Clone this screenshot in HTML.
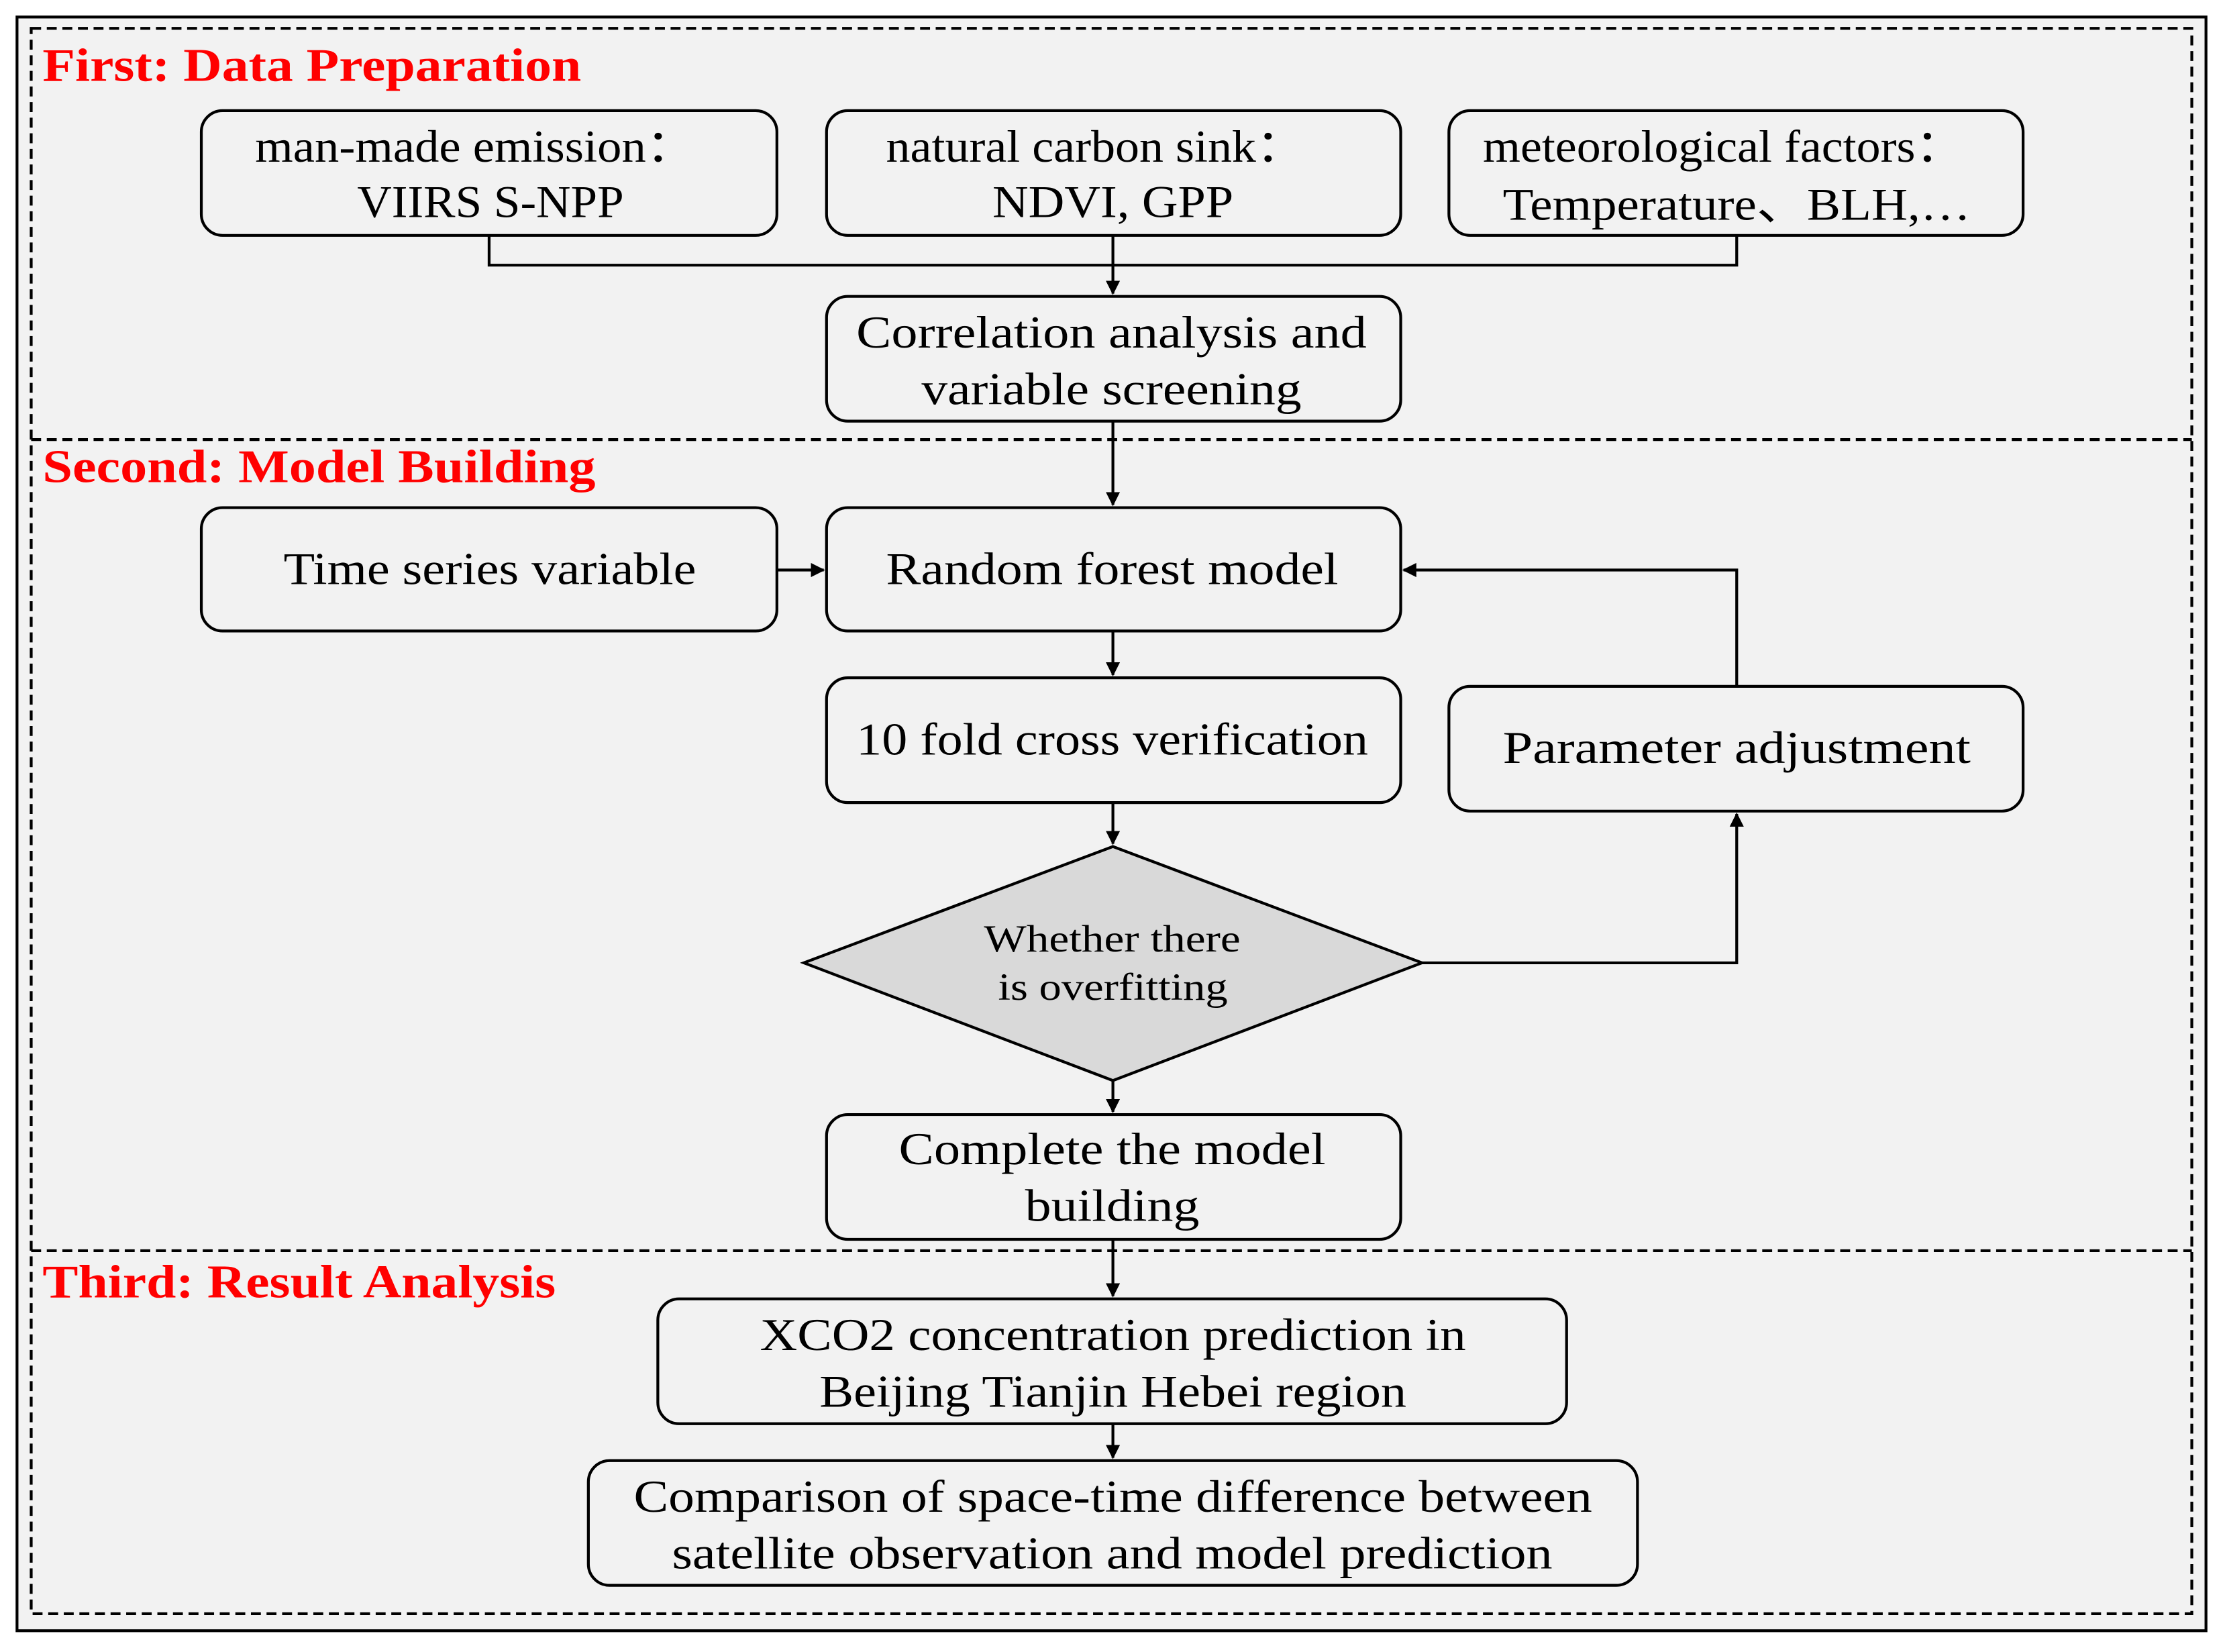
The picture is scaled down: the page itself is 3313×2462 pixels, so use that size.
<!DOCTYPE html>
<html><head><meta charset="utf-8"><style>
html,body{margin:0;padding:0;background:#fff}
svg{display:block}
text{font-family:"Liberation Serif","DejaVu Serif",serif}
</style></head><body>
<svg width="3313" height="2462" viewBox="0 0 1568 1165" preserveAspectRatio="none" xmlns="http://www.w3.org/2000/svg">
<defs><marker id="a" markerWidth="10" markerHeight="10" refX="9" refY="5" orient="auto" markerUnits="userSpaceOnUse"><path d="M0,0 L10,5 L0,10 z" fill="#000"/></marker></defs>
<rect x="0" y="0" width="1568" height="1165" fill="#fff"/>
<rect x="12" y="12" width="1544" height="1138" fill="#f2f2f2" stroke="#000" stroke-width="2"/>
<rect x="22" y="20" width="1524" height="1118" fill="none" stroke="#000" stroke-width="2" stroke-dasharray="7,4"/>
<line x1="22" y1="310" x2="1546" y2="310" stroke="#000" stroke-width="2" stroke-dasharray="7,4"/>
<line x1="22" y1="882" x2="1546" y2="882" stroke="#000" stroke-width="2" stroke-dasharray="7,4"/>
<g fill="#ff0000" font-weight="bold" font-size="33" lengthAdjust="spacingAndGlyphs">
<text x="30" y="57" textLength="380" lengthAdjust="spacingAndGlyphs">First: Data Preparation</text>
<text x="30" y="340" textLength="390" lengthAdjust="spacingAndGlyphs">Second: Model Building</text>
<text x="30" y="915" textLength="362" lengthAdjust="spacingAndGlyphs">Third: Result Analysis</text>
</g>
<g fill="#f2f2f2" stroke="#000" stroke-width="2">
<rect x="142" y="78" width="406" height="88" rx="15"/>
<rect x="583" y="78" width="405" height="88" rx="15"/>
<rect x="1022" y="78" width="405" height="88" rx="15"/>
<rect x="583" y="209" width="405" height="88" rx="15"/>
<rect x="142" y="358" width="406" height="87" rx="15"/>
<rect x="583" y="358" width="405" height="87" rx="15"/>
<rect x="583" y="478" width="405" height="88" rx="15"/>
<rect x="1022" y="484" width="405" height="88" rx="15"/>
<rect x="583" y="786" width="405" height="88" rx="15"/>
<rect x="464" y="916" width="641" height="88" rx="15"/>
<rect x="415" y="1030" width="740" height="88" rx="15"/>
<path d="M785,597 L1003,679 L785,762 L567,679 Z" fill="#d9d9d9"/>
</g>
<g fill="none" stroke="#000" stroke-width="2">
<path d="M345,166 V187 H1225 V166"/>
<path d="M785,166 V207" marker-end="url(#a)"/>
<path d="M785,297 V356" marker-end="url(#a)"/>
<path d="M548,402 H581" marker-end="url(#a)"/>
<path d="M785,445 V476" marker-end="url(#a)"/>
<path d="M1225,484 V402 H990" marker-end="url(#a)"/>
<path d="M785,566 V595" marker-end="url(#a)"/>
<path d="M1003,679 H1225 V574" marker-end="url(#a)"/>
<path d="M785,762 V784" marker-end="url(#a)"/>
<path d="M785,874 V914" marker-end="url(#a)"/>
<path d="M785,1004 V1028" marker-end="url(#a)"/>
</g>
<g fill="#000" font-size="32">
<text x="180" y="114" textLength="310" lengthAdjust="spacingAndGlyphs">man-made emission：</text>
<text x="252" y="153" textLength="188" lengthAdjust="spacingAndGlyphs">VIIRS S-NPP</text>
<text x="625" y="114" textLength="295" lengthAdjust="spacingAndGlyphs">natural carbon sink：</text>
<text x="700" y="153" textLength="170" lengthAdjust="spacingAndGlyphs">NDVI, GPP</text>
<text x="1046" y="114" textLength="339" lengthAdjust="spacingAndGlyphs">meteorological factors：</text>
<text x="1060" y="155" textLength="330" lengthAdjust="spacingAndGlyphs">Temperature、BLH,…</text>
<text x="604" y="245" textLength="360" lengthAdjust="spacingAndGlyphs">Correlation analysis and</text>
<text x="650" y="285" textLength="268" lengthAdjust="spacingAndGlyphs">variable screening</text>
<text x="200" y="412" textLength="291" lengthAdjust="spacingAndGlyphs">Time series variable</text>
<text x="625" y="412" textLength="319" lengthAdjust="spacingAndGlyphs">Random forest model</text>
<text x="604" y="532" textLength="361" lengthAdjust="spacingAndGlyphs">10 fold cross verification</text>
<text x="1060" y="538" textLength="330" lengthAdjust="spacingAndGlyphs">Parameter adjustment</text>
<text x="634" y="821" textLength="301" lengthAdjust="spacingAndGlyphs">Complete the model</text>
<text x="723" y="861" textLength="123" lengthAdjust="spacingAndGlyphs">building</text>
<text x="536" y="952" textLength="498" lengthAdjust="spacingAndGlyphs">XCO2 concentration prediction in</text>
<text x="578" y="992" textLength="414" lengthAdjust="spacingAndGlyphs">Beijing Tianjin Hebei region</text>
<text x="447" y="1066" textLength="676" lengthAdjust="spacingAndGlyphs">Comparison of space-time difference between</text>
<text x="474" y="1106" textLength="621" lengthAdjust="spacingAndGlyphs">satellite observation and model prediction</text>
<text x="694" y="671" font-size="27" textLength="181" lengthAdjust="spacingAndGlyphs">Whether there</text>
<text x="704" y="705" font-size="27" textLength="162" lengthAdjust="spacingAndGlyphs">is overfitting</text>
</g>
</svg>
</body></html>
